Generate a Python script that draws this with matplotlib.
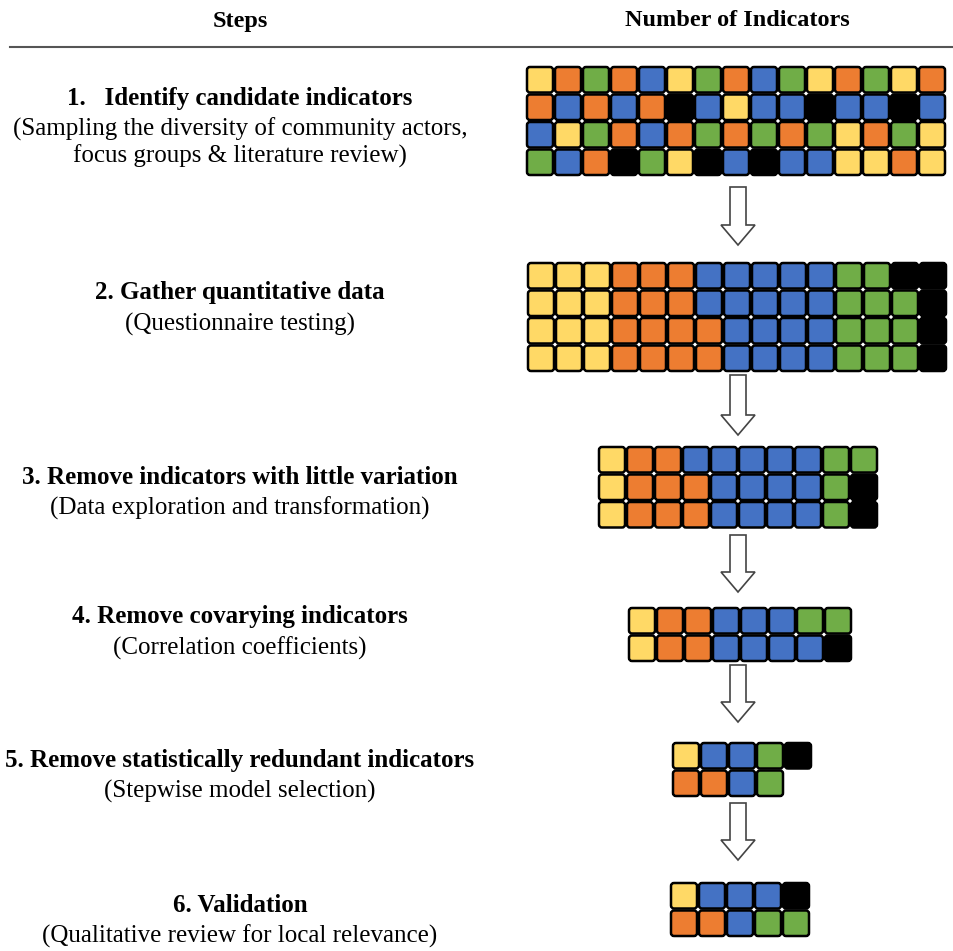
import matplotlib.pyplot as plt
from matplotlib.patches import FancyBboxPatch, Polygon

# colour codes used in the grids
palette = {'Y': '#FFD966', 'O': '#ED7D31', 'B': '#4472C4', 'G': '#70AD47', 'K': '#000000'}

step_titles = ['1.   Identify candidate indicators',
               '2. Gather quantitative data',
               '3. Remove indicators with little variation',
               '4. Remove covarying indicators',
               '5. Remove statistically redundant indicators',
               '6. Validation']
step_notes = ['(Sampling the diversity of community actors,\nfocus groups & literature review)',
              '(Questionnaire testing)',
              '(Data exploration and transformation)',
              '(Correlation coefficients)',
              '(Stepwise model selection)',
              '(Qualitative review for local relevance)']

# indicator grids, one string per row ('.' = empty)
grid1 = ['YOGOBYGOBGYOGYO',
         'OBOBOKBYBBKBBKB',
         'BYGOBOGOGOGYOGY',
         'GBOKGYKBKBBYYOY']
grid2 = ['YYYOOOBBBBBGGKK',
         'YYYOOOBBBBBGGGK',
         'YYYOOOOBBBBGGGK',
         'YYYOOOOBBBBGGGK']
grid3 = ['YOOBBBBBGG',
         'YOOOBBBBGK',
         'YOOOBBBBGK']
grid4 = ['YOOBBBGG',
         'YOOBBBBK']
grid5 = ['YBBGK',
         'OOBG.']
grid6 = ['YBBBK',
         'OOBGG']
grids = [grid1, grid2, grid3, grid4, grid5, grid6]

# layout (pixel coordinates)
W, H = 954, 951
grid_left = [526, 527, 598, 628, 672, 670]
grid_top = [66, 262, 446, 607, 742, 882]
title_y = [98, 293, 477, 617, 760, 905]
arrows = [(187, 245), (375, 435), (535, 592), (665, 722), (803, 860)]
cw, ch = 28, 27.5
arrow_x = 738
text_x = 240

fig = plt.figure(figsize=(W / 100, H / 100), dpi=100)
ax = fig.add_axes([0, 0, 1, 1])
ax.set_xlim(0, W)
ax.set_ylim(H, 0)
ax.axis('off')

serif = 'Liberation Serif'
ax.text(text_x, 21, 'Steps', ha='center', va='center', fontsize=17.5, fontweight='bold', family=serif)
ax.text(737, 21, 'Number of Indicators', ha='center', va='center', fontsize=17.5, fontweight='bold', family=serif)
ax.plot([10, W], [47, 47], color='#555555', lw=1.5)

for i in range(6):
    ax.text(text_x, title_y[i], step_titles[i], ha='center', va='center', fontsize=18,
            fontweight='bold', family=serif)
    ax.text(text_x, title_y[i] + 20, step_notes[i], ha='center', va='top', fontsize=18,
            family=serif, linespacing=1.2)

    for r, row in enumerate(grids[i]):
        for c, code in enumerate(row):
            if code == '.':
                continue
            x0 = grid_left[i] + c * cw
            y0 = grid_top[i] + r * ch
            box = FancyBboxPatch((x0 + 4, y0 + 4), cw - 8, ch - 8,
                                 boxstyle='round,pad=3', facecolor=palette[code],
                                 edgecolor='black', lw=1.8)
            ax.add_patch(box)

# hollow arrows between steps
for top, bot in arrows:
    sw, hw, hl = 8, 17, 20
    pts = [(arrow_x - sw, top), (arrow_x + sw, top), (arrow_x + sw, bot - hl),
           (arrow_x + hw, bot - hl), (arrow_x, bot), (arrow_x - hw, bot - hl),
           (arrow_x - sw, bot - hl)]
    ax.add_patch(Polygon(pts, closed=True, facecolor='white', edgecolor='#444444', lw=1.2))

fig.savefig('out.png', dpi=100)
